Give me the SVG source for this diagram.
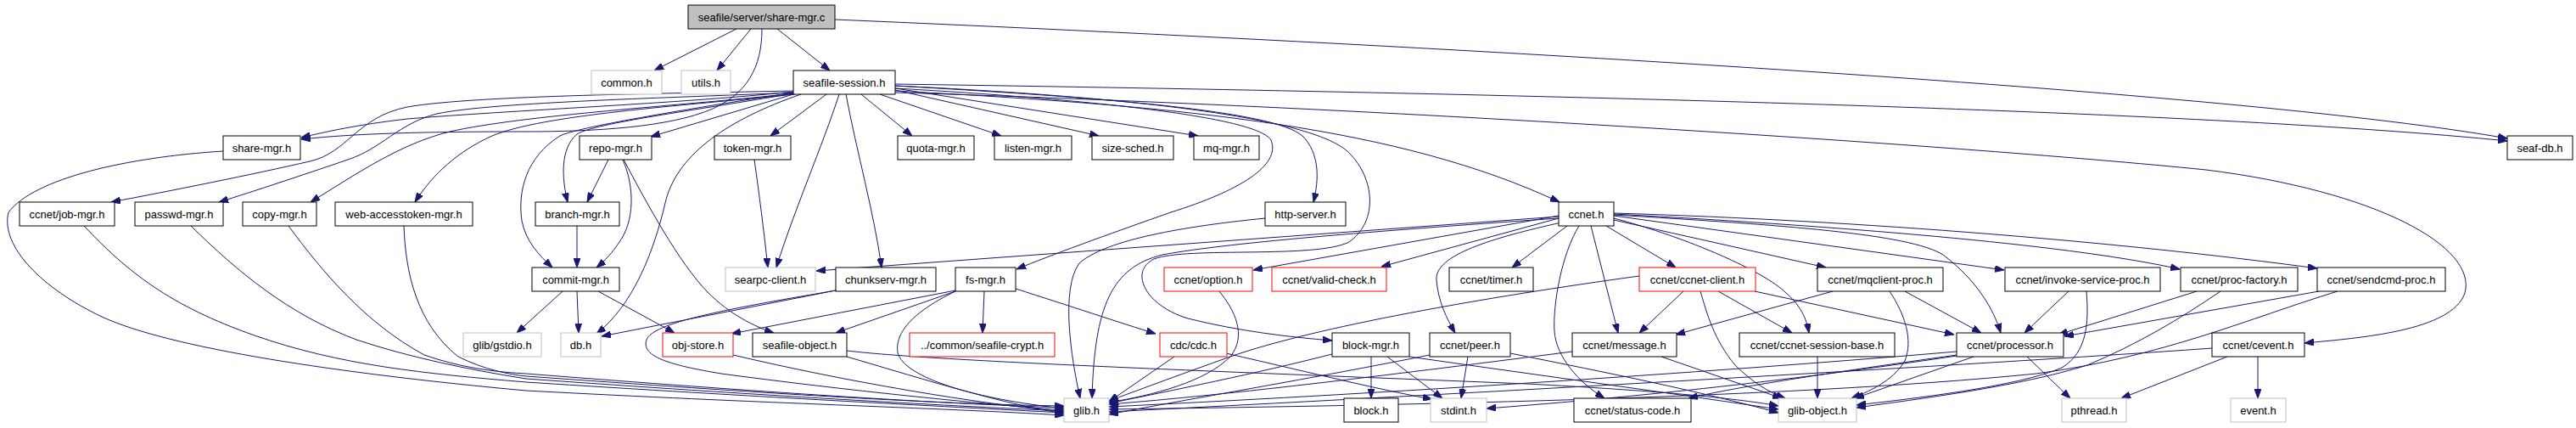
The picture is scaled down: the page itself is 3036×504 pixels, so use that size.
<svg xmlns="http://www.w3.org/2000/svg" width="3036" height="504" viewBox="0 0 3036 504">
<style>
rect{fill:#fff;stroke:#000;stroke-width:1}
.g rect{stroke:#bfbfbf}
.r rect{stroke:#ff0000}
.root rect{fill:#bfbfbf}
text{font-family:"Liberation Sans",Arial,Helvetica,sans-serif;font-size:13px;text-anchor:middle;fill:#000}
#edges path{fill:none;stroke:#191970;stroke-width:1;marker-end:url(#a)}
</style>
<defs>
<marker id="a" markerWidth="11" markerHeight="8" refX="11" refY="4" orient="auto" markerUnits="userSpaceOnUse">
<path d="M0,0L11,4L0,8z" fill="#191970" stroke="#191970"/>
</marker>
</defs>
<rect x="0" y="0" width="3036" height="504" style="fill:#fff;stroke:none"/>
<g id="edges">
<path d="M868,34L771,83"/>
<path d="M885,34L845,83"/>
<path d="M916,34L978,83"/>
<path d="M898,34C898,80 880,110 840,128C790,150 700,155 620,155C500,155 420,157 355,164"/>
<path d="M984,23C1500,45 2600,100 2955,163"/>
<path d="M935,108C800,122 600,130 480,140C420,147 385,155 355,162"/>
<path d="M935,107C800,110 560,112 480,126C420,138 410,180 365,190C300,205 200,225 131,238"/>
<path d="M935,109C800,115 580,120 515,134C470,145 450,175 410,188C360,205 300,225 258,238"/>
<path d="M936,110C800,125 620,135 530,155C470,170 420,205 366,238"/>
<path d="M937,111C800,125 640,135 580,160C540,178 510,205 489,238"/>
<path d="M935,111L767,161"/>
<path d="M935,110C820,130 700,145 680,158C660,175 662,210 669,238"/>
<path d="M935,109C800,130 680,150 660,160C620,185 610,225 615,260C620,285 635,300 651,315"/>
<path d="M974,111L908,160"/>
<path d="M1015,111L1075,160"/>
<path d="M1037,111L1180,160"/>
<path d="M1055,106L1295,160"/>
<path d="M1055,104L1412,160"/>
<path d="M989,111C970,170 935,250 915,315"/>
<path d="M997,111C1010,180 1030,250 1039,315"/>
<path d="M944,111C860,140 800,180 785,235C770,300 745,360 703,393"/>
<path d="M1055,104C1250,115 1480,135 1498,165C1510,195 1460,225 1380,250C1300,278 1240,300 1198,317"/>
<path d="M1055,101C1300,115 1500,130 1535,160C1555,180 1555,210 1548,238"/>
<path d="M1055,101C1350,115 1550,140 1590,180C1620,210 1625,260 1590,285C1550,305 1400,290 1360,305C1330,320 1350,360 1400,375C1460,390 1520,397 1570,401"/>
<path d="M1055,107C1400,125 1650,150 1838,238"/>
<path d="M1055,99C1800,110 2600,130 2955,166"/>
<path d="M1055,109C1600,125 2300,170 2600,200C2800,225 2920,290 2905,345C2890,390 2780,398 2716,404"/>
<path d="M717,188L692,238"/>
<path d="M734,188C748,220 748,260 730,285C722,297 713,307 703,315"/>
<path d="M735,188C760,235 800,310 835,345C860,370 890,385 912,392"/>
<path d="M680,266L680,315"/>
<path d="M663,343L609,392"/>
<path d="M680,343L682,392"/>
<path d="M705,343L795,392"/>
<path d="M889,188C895,230 900,270 905,315"/>
<path d="M1837,255L962,319"/>
<path d="M985,342L709,396"/>
<path d="M985,342C850,365 770,380 762,400C755,420 790,430 850,440C1000,460 1150,475 1254,483"/>
<path d="M1126,342L862,393"/>
<path d="M1126,343L985,392"/>
<path d="M1160,343L1158,392"/>
<path d="M1126,343C1070,370 1055,395 1058,415C1065,445 1150,470 1254,481"/>
<path d="M1197,340C1260,360 1320,380 1362,393"/>
<path d="M864,418C1000,450 1150,475 1254,485"/>
<path d="M998,420C1100,450 1180,475 1254,487"/>
<path d="M998,413C1100,425 1400,436 1800,452C1950,460 2040,468 2096,478"/>
<path d="M1491,257C1380,268 1300,285 1272,310C1250,340 1262,420 1273,469"/>
<path d="M1837,257C1650,270 1450,285 1370,300C1310,315 1290,360 1287,469"/>
<path d="M1837,254L1477,318"/>
<path d="M1837,257L1628,314"/>
<path d="M1847,266L1782,315"/>
<path d="M1840,262C1760,280 1690,300 1693,330C1695,355 1705,375 1715,392"/>
<path d="M1861,266C1840,300 1830,360 1832,390C1834,420 1860,450 1891,469"/>
<path d="M1875,266L1907,392"/>
<path d="M1893,266L1975,315"/>
<path d="M1902,257C1990,280 2080,320 2105,345C2125,362 2130,380 2132,392"/>
<path d="M1902,259L2152,315"/>
<path d="M1902,254L2362,318"/>
<path d="M1902,253C2100,265 2250,275 2290,300C2330,330 2350,365 2358,392"/>
<path d="M1902,252C2200,268 2450,290 2569,317"/>
<path d="M1902,251C2200,260 2500,285 2731,316"/>
<path d="M1932,325C1750,350 1550,385 1450,420C1380,445 1340,460 1307,472"/>
<path d="M1984,343L1932,392"/>
<path d="M2025,343L2112,392"/>
<path d="M2068,343L2303,394"/>
<path d="M2004,343C2012,370 2020,400 2045,430C2065,450 2085,462 2104,469"/>
<path d="M2160,343L1975,394"/>
<path d="M2245,343L2335,392"/>
<path d="M2227,343C2245,370 2255,400 2245,425C2230,450 2200,462 2182,469"/>
<path d="M2142,420L2142,469"/>
<path d="M1958,420L2100,469"/>
<path d="M1853,414C1650,440 1450,465 1307,476"/>
<path d="M2326,420L2186,469"/>
<path d="M2306,418C2150,440 2050,455 1990,469"/>
<path d="M2306,414C2000,440 1600,465 1307,479"/>
<path d="M2389,420C2410,440 2425,455 2440,469"/>
<path d="M2306,419C2100,450 1900,470 1752,481"/>
<path d="M2438,343L2386,392"/>
<path d="M2459,343C2462,380 2460,415 2430,433C2380,455 2250,470 2188,477"/>
<path d="M2589,343L2426,394"/>
<path d="M2617,343C2570,375 2520,405 2460,430C2380,455 2260,470 2188,480"/>
<path d="M2733,343L2433,396"/>
<path d="M2755,343C2650,375 2550,420 2400,440C2100,470 1600,478 1307,482"/>
<path d="M2607,410C2400,425 1800,460 1307,485"/>
<path d="M2625,420L2500,469"/>
<path d="M2661,420L2661,469"/>
<path d="M1384,420L1307,473"/>
<path d="M1445,416C1550,440 1630,460 1688,470"/>
<path d="M1570,417C1480,440 1380,460 1307,475"/>
<path d="M1616,420L1616,469"/>
<path d="M1635,420L1700,469"/>
<path d="M1661,420C1800,440 1950,460 2096,482"/>
<path d="M1685,418C1550,445 1400,470 1307,488"/>
<path d="M1730,420L1722,469"/>
<path d="M1780,416C1900,440 2000,460 2096,486"/>
<path d="M1437,343C1455,365 1470,395 1450,420C1420,450 1360,465 1307,474"/>
<path d="M263,178C150,185 40,210 10,250C0,290 50,340 120,373C200,410 400,440 620,460C900,475 1100,480 1254,489"/>
<path d="M99,266C150,320 200,360 300,395C400,430 500,440 620,450C900,468 1100,478 1254,486"/>
<path d="M225,266C280,320 340,370 420,400C480,420 550,435 620,446C900,466 1100,477 1254,484"/>
<path d="M340,266C380,320 430,380 500,418C540,432 580,438 620,440C900,462 1100,475 1254,480"/>
<path d="M476,266C478,320 490,380 540,420C570,435 600,441 620,443C900,463 1100,476 1254,478"/>
</g>
<g id="n_root" class="root"><rect x="811" y="6" width="173" height="28"/><text x="897.5" y="24.5">seafile/server/share-mgr.c</text></g>
<g id="n_common" class="g"><rect x="697" y="83" width="83" height="28"/><text x="738.5" y="101.5">common.h</text></g>
<g id="n_utils" class="g"><rect x="803" y="83" width="58" height="28"/><text x="832" y="101.5">utils.h</text></g>
<g id="n_session"><rect x="935" y="83" width="120" height="28"/><text x="995" y="101.5">seafile-session.h</text></g>
<g id="n_sharemgr"><rect x="263" y="160" width="91" height="28"/><text x="308.5" y="178.5">share-mgr.h</text></g>
<g id="n_repomgr"><rect x="683" y="160" width="85" height="28"/><text x="725.5" y="178.5">repo-mgr.h</text></g>
<g id="n_tokenmgr"><rect x="842" y="160" width="90" height="28"/><text x="887" y="178.5">token-mgr.h</text></g>
<g id="n_quotamgr"><rect x="1058" y="160" width="90" height="28"/><text x="1103" y="178.5">quota-mgr.h</text></g>
<g id="n_listenmgr"><rect x="1172" y="160" width="91" height="28"/><text x="1217.5" y="178.5">listen-mgr.h</text></g>
<g id="n_sizesched"><rect x="1287" y="160" width="96" height="28"/><text x="1335" y="178.5">size-sched.h</text></g>
<g id="n_mqmgr"><rect x="1407" y="160" width="77" height="28"/><text x="1445.5" y="178.5">mq-mgr.h</text></g>
<g id="n_seafdb"><rect x="2955" y="160" width="77" height="28"/><text x="2993.5" y="178.5">seaf-db.h</text></g>
<g id="n_jobmgr"><rect x="23" y="238" width="112" height="28"/><text x="79" y="256.5">ccnet/job-mgr.h</text></g>
<g id="n_passwdmgr"><rect x="159" y="238" width="104" height="28"/><text x="211" y="256.5">passwd-mgr.h</text></g>
<g id="n_copymgr"><rect x="286" y="238" width="87" height="28"/><text x="329.5" y="256.5">copy-mgr.h</text></g>
<g id="n_webtok"><rect x="395" y="238" width="162" height="28"/><text x="476" y="256.5">web-accesstoken-mgr.h</text></g>
<g id="n_branchmgr"><rect x="631" y="238" width="99" height="28"/><text x="680.5" y="256.5">branch-mgr.h</text></g>
<g id="n_httpserver"><rect x="1491" y="238" width="95" height="28"/><text x="1538.5" y="256.5">http-server.h</text></g>
<g id="n_ccnet"><rect x="1837" y="238" width="65" height="28"/><text x="1869.5" y="256.5">ccnet.h</text></g>
<g id="n_commitmgr"><rect x="627" y="315" width="103" height="28"/><text x="678.5" y="333.5">commit-mgr.h</text></g>
<g id="n_searpc" class="g"><rect x="855" y="315" width="106" height="28"/><text x="908" y="333.5">searpc-client.h</text></g>
<g id="n_chunkserv"><rect x="985" y="315" width="118" height="28"/><text x="1044" y="333.5">chunkserv-mgr.h</text></g>
<g id="n_fsmgr"><rect x="1126" y="315" width="71" height="28"/><text x="1161.5" y="333.5">fs-mgr.h</text></g>
<g id="n_option" class="r"><rect x="1372" y="315" width="104" height="28"/><text x="1424" y="333.5">ccnet/option.h</text></g>
<g id="n_validcheck" class="r"><rect x="1499" y="315" width="135" height="28"/><text x="1566.5" y="333.5">ccnet/valid-check.h</text></g>
<g id="n_timer"><rect x="1708" y="315" width="99" height="28"/><text x="1757.5" y="333.5">ccnet/timer.h</text></g>
<g id="n_ccnetclient" class="r"><rect x="1932" y="315" width="137" height="28"/><text x="2000.5" y="333.5">ccnet/ccnet-client.h</text></g>
<g id="n_mqclient"><rect x="2142" y="315" width="148" height="28"/><text x="2216" y="333.5">ccnet/mqclient-proc.h</text></g>
<g id="n_invoke"><rect x="2363" y="315" width="183" height="28"/><text x="2454.5" y="333.5">ccnet/invoke-service-proc.h</text></g>
<g id="n_procfactory"><rect x="2570" y="315" width="138" height="28"/><text x="2639" y="333.5">ccnet/proc-factory.h</text></g>
<g id="n_sendcmd"><rect x="2731" y="315" width="151" height="28"/><text x="2806.5" y="333.5">ccnet/sendcmd-proc.h</text></g>
<g id="n_gstdio" class="g"><rect x="546" y="392" width="92" height="28"/><text x="592" y="410.5">glib/gstdio.h</text></g>
<g id="n_db" class="g"><rect x="661" y="392" width="47" height="28"/><text x="684.5" y="410.5">db.h</text></g>
<g id="n_objstore" class="r"><rect x="781" y="392" width="83" height="28"/><text x="822.5" y="410.5">obj-store.h</text></g>
<g id="n_seafobj"><rect x="887" y="392" width="111" height="28"/><text x="942.5" y="410.5">seafile-object.h</text></g>
<g id="n_crypt" class="r"><rect x="1072" y="392" width="171" height="28"/><text x="1157.5" y="410.5">../common/seafile-crypt.h</text></g>
<g id="n_cdc" class="r"><rect x="1367" y="392" width="79" height="28"/><text x="1406.5" y="410.5">cdc/cdc.h</text></g>
<g id="n_blockmgr"><rect x="1570" y="392" width="91" height="28"/><text x="1615.5" y="410.5">block-mgr.h</text></g>
<g id="n_peer"><rect x="1685" y="392" width="95" height="28"/><text x="1732.5" y="410.5">ccnet/peer.h</text></g>
<g id="n_message"><rect x="1853" y="392" width="123" height="28"/><text x="1914.5" y="410.5">ccnet/message.h</text></g>
<g id="n_sessionbase"><rect x="2050" y="392" width="183" height="28"/><text x="2141.5" y="410.5">ccnet/ccnet-session-base.h</text></g>
<g id="n_processor"><rect x="2306" y="392" width="126" height="28"/><text x="2369" y="410.5">ccnet/processor.h</text></g>
<g id="n_cevent"><rect x="2607" y="392" width="109" height="28"/><text x="2661.5" y="410.5">ccnet/cevent.h</text></g>
<g id="n_glib" class="g"><rect x="1254" y="469" width="53" height="28"/><text x="1280.5" y="487.5">glib.h</text></g>
<g id="n_block"><rect x="1584" y="469" width="64" height="28"/><text x="1616" y="487.5">block.h</text></g>
<g id="n_stdint" class="g"><rect x="1686" y="469" width="66" height="28"/><text x="1719" y="487.5">stdint.h</text></g>
<g id="n_statuscode"><rect x="1855" y="469" width="138" height="28"/><text x="1924" y="487.5">ccnet/status-code.h</text></g>
<g id="n_glibobject" class="g"><rect x="2096" y="469" width="92" height="28"/><text x="2142" y="487.5">glib-object.h</text></g>
<g id="n_pthread" class="g"><rect x="2430" y="469" width="76" height="28"/><text x="2468" y="487.5">pthread.h</text></g>
<g id="n_event" class="g"><rect x="2629" y="469" width="65" height="28"/><text x="2661.5" y="487.5">event.h</text></g>
</svg>
